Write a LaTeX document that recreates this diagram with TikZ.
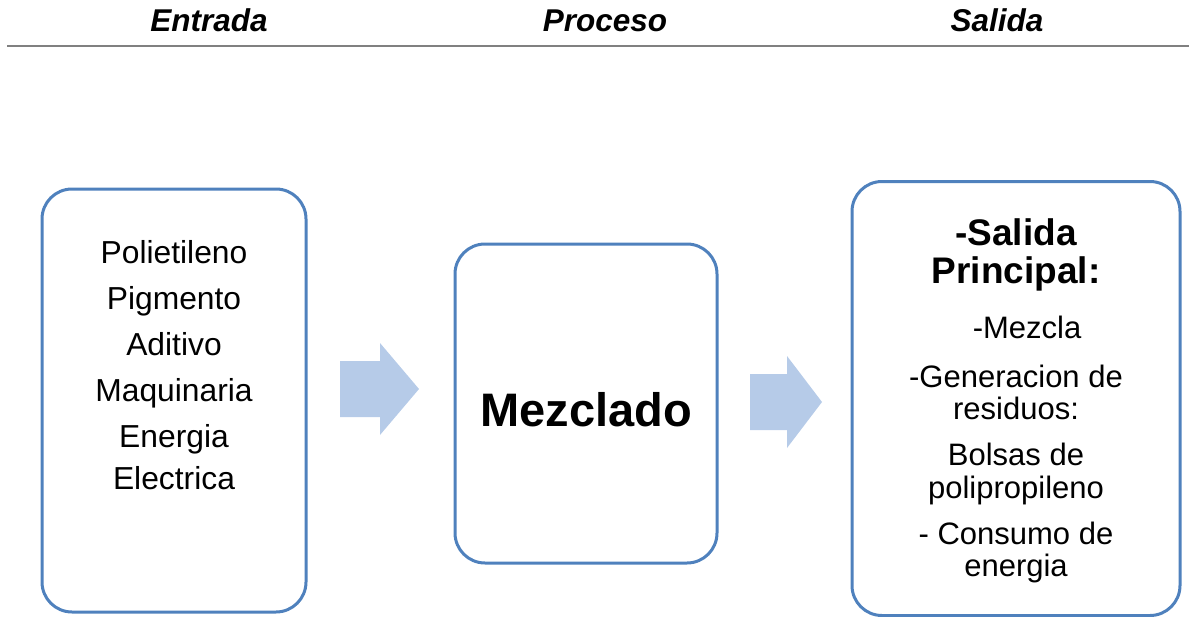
\documentclass[tikz,border=0pt]{standalone}
\usepackage{fontspec}
\setmainfont{Liberation Sans}
\definecolor{boxline}{HTML}{4F81BD}
\definecolor{arrowfill}{HTML}{B6CBE8}
\definecolor{rule}{HTML}{808080}
\tikzset{
  procbox/.style={draw=boxline, line width=3pt, rounded corners=30pt, fill=white, inner sep=0pt},
  head/.style={anchor=base, inner sep=0pt, font=\fontsize{31.5}{34}\selectfont\bfseries\itshape},
  item/.style={anchor=base, inner sep=0pt, font=\fontsize{31.8}{34}\selectfont},
  outtitle/.style={anchor=base, inner sep=0pt, font=\fontsize{37}{38}\selectfont\bfseries},
  outitem/.style={anchor=base, inner sep=0pt, font=\fontsize{31}{32}\selectfont},
  blockarrow/.style={fill=arrowfill, draw=none}
}
\begin{document}
\begin{tikzpicture}[x=1pt, y=-1pt]
  \useasboundingbox (0,0) rectangle (1189,616);

  % column headings and rule
  \node[head] (hIn)  at (209,31) {Entrada};
  \node[head] (hPro) at (605,31) {Proceso};
  \node[head] (hOut) at (997,31) {Salida};
  \coordinate (ruleL) at (7,45.5);
  \coordinate (ruleR) at (1189,45.5);
  \draw[rule, line width=2pt] (ruleL) -- (ruleR);

  % the three stages
  \node[procbox, minimum width=264pt, minimum height=423pt] (inbox)   at (174,400.5) {};
  \node[procbox, minimum width=262pt, minimum height=319pt] (procbox) at (586,403.5) {};
  \node[procbox, minimum width=328pt, minimum height=434pt] (outbox)  at (1016,398.5) {};

  % inputs
  \node[item] (i1) at (174,263.5) {Polietileno};
  \node[item] (i2) at (174,309.5) {Pigmento};
  \node[item] (i3) at (174,355.5) {Aditivo};
  \node[item] (i4) at (174,401.5) {Maquinaria};
  \node[item] (i5) at (174,447.5) {Energia};
  \node[item] (i6) at (174,489.5) {Electrica};

  % process
  \node[anchor=base, inner sep=0pt, font=\fontsize{47}{50}\selectfont\bfseries] (p1) at (586,426) {Mezclado};

  % outputs
  \node[outtitle] (o1) at (1016,245) {-Salida};
  \node[outtitle] (o2) at (1016,283) {Principal:};
  \node[outitem]  (o3) at (1027,338) {-Mezcla};
  \node[outitem]  (o4) at (1016,387) {-Generacion de};
  \node[outitem]  (o5) at (1016,419.5) {residuos:};
  \node[outitem]  (o6) at (1016,465.5) {Bolsas de};
  \node[outitem]  (o7) at (1016,498) {polipropileno};
  \node[outitem]  (o8) at (1016,544.5) {- Consumo de};
  \node[outitem]  (o9) at (1016,576.5) {energia};

  % block arrows between the stages
  \fill[blockarrow] (340,361) -- (380,361) -- (380,343) -- (419,389)
                    -- (380,435) -- (380,417) -- (340,417) -- cycle;
  \fill[blockarrow] (750,374) -- (787,374) -- (787,356) -- (822,402)
                    -- (787,448) -- (787,430) -- (750,430) -- cycle;
\end{tikzpicture}
\end{document}
